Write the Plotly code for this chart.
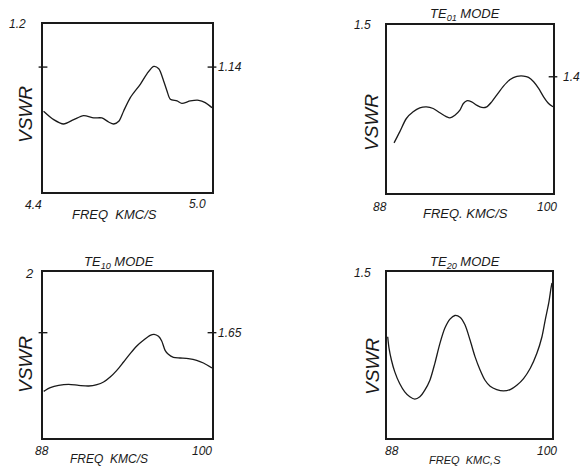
import plotly.graph_objects as go

W, H = 583, 468

# ---------------- data ----------------
# Panel 1 (no title): 4.4 - 5.0 KMC/S
p1_freq = [4.402, 4.438, 4.473, 4.509, 4.544, 4.580, 4.609, 4.633, 4.651, 4.669,
           4.686, 4.710, 4.746, 4.769, 4.793, 4.811, 4.828, 4.840, 4.852, 4.876,
           4.893, 4.923, 4.953, 4.976, 5.0]
p1_vswr = [1.0786, 1.0668, 1.0607, 1.0668, 1.0725, 1.0692, 1.0692, 1.0635, 1.0607, 1.0645,
           1.0786, 1.0975, 1.1164, 1.1306, 1.1410, 1.1377, 1.1211, 1.1070, 1.0952, 1.0928,
           1.0895, 1.0928, 1.0937, 1.0904, 1.0834]

# Panel 2: TE01 mode, 8.8 - 10.0
p2_freq = [8.851, 8.892, 8.940, 8.989, 9.037, 9.085, 9.134, 9.182, 9.231, 9.255,
           9.291, 9.327, 9.352, 9.376, 9.412, 9.448, 9.485, 9.521, 9.557, 9.593,
           9.642, 9.690, 9.739, 9.787, 9.823, 9.860, 9.896, 9.932, 9.968, 10.0]
p2_vswr = [1.2723, 1.2936, 1.3194, 1.3323, 1.3400, 1.3420, 1.3387, 1.3304, 1.3226, 1.3207,
           1.3258, 1.3355, 1.3484, 1.3536, 1.3516, 1.3452, 1.3407, 1.3420, 1.3516, 1.3645,
           1.3820, 1.3949, 1.4007, 1.4013, 1.3987, 1.3903, 1.3774, 1.3613, 1.3484, 1.3420]

# Panel 3: TE10 mode, 8.8 - 10.0
p3_freq = [8.805, 8.852, 8.911, 8.982, 9.053, 9.124, 9.183, 9.230, 9.277, 9.324,
           9.372, 9.419, 9.466, 9.513, 9.561, 9.589, 9.620, 9.643, 9.667, 9.690,
           9.726, 9.773, 9.832, 9.891, 9.939, 10.0]
p3_vswr = [1.3115, 1.3327, 1.3462, 1.3520, 1.3462, 1.3423, 1.3500, 1.3654, 1.3943, 1.4327,
           1.4808, 1.5289, 1.5731, 1.6058, 1.6346, 1.6404, 1.6289, 1.6019, 1.5481, 1.5250,
           1.5077, 1.5039, 1.5000, 1.4904, 1.4750, 1.4462]

# Panel 4: TE20 mode, 8.8 - 10.0
p4_freq = [8.805, 8.815, 8.832, 8.856, 8.892, 8.929, 8.966, 9.002, 9.039, 9.075,
           9.112, 9.148, 9.185, 9.221, 9.258, 9.294, 9.331, 9.367, 9.404, 9.440,
           9.477, 9.513, 9.550, 9.598, 9.647, 9.696, 9.744, 9.793, 9.842, 9.890,
           9.927, 9.951, 9.976, 9.993, 10.0]
p4_vswr = [1.305, 1.270, 1.235, 1.200, 1.164, 1.139, 1.124, 1.117, 1.124, 1.144,
           1.174, 1.225, 1.285, 1.331, 1.358, 1.369, 1.364, 1.341, 1.295, 1.245,
           1.205, 1.174, 1.156, 1.146, 1.142, 1.146, 1.159, 1.179, 1.210, 1.255,
           1.305, 1.356, 1.406, 1.452, 1.467]

# axis ranges and tick labels
p1_xrange, p1_yrange = [4.4, 5.0], [0.966, 1.2]
p2_xrange, p2_yrange = [8.8, 10.0], [1.1755, 1.5]
p3_xrange, p3_yrange = [8.8, 10.0], [1.0423, 2.0]
p4_xrange, p4_yrange = [8.8, 10.0], [1.0, 1.5]

p1_xlabels = ["4.4", "5.0"]
p2_xlabels = ["88", "100"]
p3_xlabels = ["88", "100"]
p4_xlabels = ["88", "100"]
p1_ytop, p1_ymark = "1.2", 1.14
p2_ytop, p2_ymark = "1.5", 1.4
p3_ytop, p3_ymark = "2", 1.65
p4_ytop = "1.5"

titles = ["", "TE<sub>01</sub> MODE", "TE<sub>10</sub> MODE", "TE<sub>20</sub> MODE"]
xtitles = ["FREQ  KMC/S", "FREQ. KMC/S", "FREQ  KMC/S", "FREQ  KMC,S"]
ytitle = "VSWR"

# ---------------- layout helpers ----------------
INK = "#1a1a1a"
FONT = "Liberation Sans"

def px(x):
    return x / W

def py(y):
    return 1 - y / H

# panel boxes in pixels: (left, right, top, bottom)
boxes = [(43, 212, 24, 192), (387, 553, 25, 193), (43, 212, 272, 438), (387, 552, 272, 438)]
freqs = [p1_freq, p2_freq, p3_freq, p4_freq]
vswrs = [p1_vswr, p2_vswr, p3_vswr, p4_vswr]
xranges = [p1_xrange, p2_xrange, p3_xrange, p4_xrange]
yranges = [p1_yrange, p2_yrange, p3_yrange, p4_yrange]

fig = go.Figure()
layout = dict(
    width=W, height=H, margin=dict(l=0, r=0, t=0, b=0),
    paper_bgcolor="white", plot_bgcolor="white", showlegend=False,
    font=dict(family=FONT, color=INK, size=12),
)

for i in range(4):
    n = "" if i == 0 else str(i + 1)
    l, r, t, b = boxes[i]
    fig.add_trace(go.Scatter(
        x=freqs[i], y=vswrs[i], mode="lines",
        line=dict(color=INK, width=1.3, shape="spline", smoothing=0.8),
        xaxis="x" + n, yaxis="y" + n, hoverinfo="skip",
    ))
    ax = dict(showline=True, linecolor=INK, linewidth=1.6, mirror=True,
              showgrid=False, zeroline=False, showticklabels=False, ticks="",
              fixedrange=True)
    layout["xaxis" + n] = dict(ax, domain=[px(l), px(r)], range=xranges[i],
                               anchor="y" + n)
    layout["yaxis" + n] = dict(ax, domain=[py(b), py(t)], range=yranges[i],
                               anchor="x" + n)

shapes = []
def cross_tick(n, yval, left=True, right=True):
    sides = []
    if left:
        sides.append(0.0)
    if right:
        sides.append(1.0)
    for s in sides:
        shapes.append(dict(type="line", xref="x%s domain" % n, yref="y" + n,
                           x0=s - 0.026, x1=s + 0.026, y0=yval, y1=yval,
                           line=dict(color=INK, width=1.4)))

cross_tick("", p1_ymark)
cross_tick("2", p2_ymark, left=False)
cross_tick("3", p3_ymark)
layout["shapes"] = shapes

ann = []
def text(x, y, s, size=12, xanchor="center", angle=0):
    ann.append(dict(x=px(x), y=py(y), xref="paper", yref="paper", text=s,
                    showarrow=False, xanchor=xanchor, yanchor="middle",
                    textangle=angle,
                    font=dict(size=size, family=FONT, color=INK, style="italic")))

TS = 13   # axis title / mode title size
VS = 19   # VSWR size
# panel 1
text(17, 24, p1_ytop)
text(216, 67, "%.2f" % p1_ymark, xanchor="left")
text(33, 205, p1_xlabels[0])
text(197, 204, p1_xlabels[1])
text(114, 215, xtitles[0], size=TS)
text(25, 115, ytitle, size=VS, angle=-90)
# panel 2
text(362, 25, p2_ytop)
text(561, 77, "%.1f" % p2_ymark, xanchor="left")
text(465, 15, titles[1], size=TS)
text(380, 207, p2_xlabels[0])
text(547, 207, p2_xlabels[1])
text(465, 214, xtitles[1], size=TS)
text(372, 123, ytitle, size=VS, angle=-90)
# panel 3
text(29, 273, p3_ytop, size=13)
text(216, 333, "%.2f" % p3_ymark, xanchor="left")
text(119, 262, titles[2], size=TS)
text(42, 451, p3_xlabels[0])
text(202, 451, p3_xlabels[1])
text(109, 459, xtitles[2], size=12)
text(25, 365, ytitle, size=VS, angle=-90)
# panel 4
text(362, 273, p4_ytop)
text(465, 262, titles[3], size=TS)
text(392, 451, p4_xlabels[0])
text(547, 451, p4_xlabels[1])
text(465, 460, xtitles[3], size=11)
text(372, 367, ytitle, size=VS, angle=-90)

layout["annotations"] = ann
fig.update_layout(**layout)
fig.write_html("out.html", config={"displayModeBar": False},
               post_script="document.body.style.margin='0';document.body.style.overflow='hidden';")
